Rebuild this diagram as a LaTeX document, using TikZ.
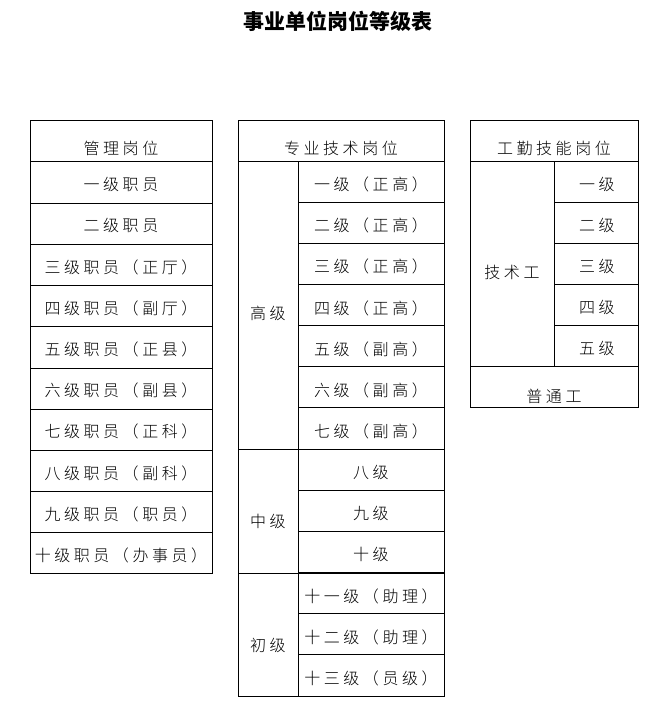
\documentclass[tikz,border=0pt]{standalone}
\usepackage{fontspec}
\newfontfamily\cjk[LetterSpace=22]{Noto Sans CJK SC Light}
\newfontfamily\cjkt{Noto Sans CJK SC}
\begin{document}
\begin{tikzpicture}[x=1pt,y=-1pt,line width=0.9pt,
  cell/.style={font=\cjk\fontsize{16}{18}\selectfont,inner sep=0pt,yshift=-3pt}]
\useasboundingbox (0,0) rectangle (664,702);
\node[font=\cjkt\bfseries\fontsize{21}{23}\selectfont] (title) at (338,21) {事业单位岗位等级表};
% table 1
\draw (30,120) rectangle (212,573);
\foreach \y in {161,203,244,285,326,368,409,450,491,532} \draw (30,\y) -- (212,\y);
\node[cell] (h1) at (121,145) {管理岗位};
\foreach \t [count=\i] in {一级职员,二级职员,三级职员（正厅）,四级职员（副厅）,五级职员（正县）,六级职员（副县）,七级职员（正科）,八级职员（副科）,九级职员（职员）,十级职员（办事员）}
  \node[cell] (a\i) at (121,{161+41.2*(\i-0.5)}) {\t};
% table 2
\draw (238,120) rectangle (444,696);
\draw (238,161) -- (444,161);
\draw (298,161) -- (298,696);
\draw (238,449) -- (444,449);
\draw (238,573) -- (444,573);
\foreach \i in {1,...,12} \draw (298,{161+41.15*\i}) -- (444,{161+41.15*\i});
\node[cell] (h2) at (341,145) {专业技术岗位};
\node[cell] (g1) at (268,310) {高级};
\node[cell] (g2) at (268,518) {中级};
\node[cell] (g3) at (268,642) {初级};
\foreach \t [count=\i] in {一级（正高）,二级（正高）,三级（正高）,四级（正高）,五级（副高）,六级（副高）,七级（副高）,八级,九级,十级,十一级（助理）,十二级（助理）,十三级（员级）}
  \node[cell] (b\i) at (371,{161+41.15*(\i-0.5)}) {\t};
% table 3
\draw (470,120) rectangle (638,407);
\draw (470,161) -- (638,161);
\draw (470,366) -- (638,366);
\draw (554,161) -- (554,366);
\foreach \i in {1,...,4} \draw (554,{161+41*\i}) -- (638,{161+41*\i});
\node[cell] (h3) at (554,145) {工勤技能岗位};
\node[cell] (j) at (512,269) {技术工};
\foreach \t [count=\i] in {一级,二级,三级,四级,五级}
  \node[cell] (c\i) at (597,{161+41*(\i-0.5)}) {\t};
\node[cell] (p) at (554,393) {普通工};
\end{tikzpicture}
\end{document}
